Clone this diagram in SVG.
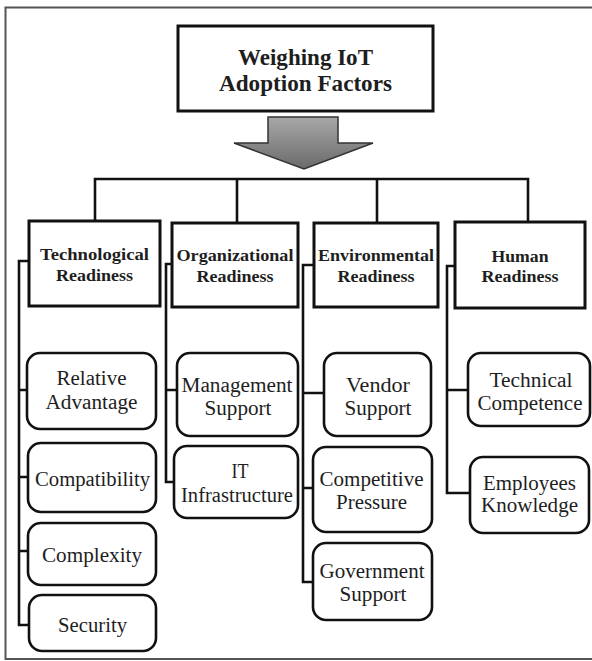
<svg xmlns="http://www.w3.org/2000/svg" width="592" height="661" viewBox="0 0 592 661">
<defs>
<linearGradient id="ag" x1="0" y1="0" x2="0" y2="1">
<stop offset="0" stop-color="#a8a8a8"/>
<stop offset="1" stop-color="#6a6a6a"/>
</linearGradient>
<style>
.h{font-size:23px;font-weight:bold}
.c{font-size:17px;font-weight:bold}
.l{font-size:20.5px}
.sq{fill:#fff;stroke:#111;stroke-width:3}
.rd{fill:#fff;stroke:#111;stroke-width:2.6}
.cn{fill:none;stroke:#111;stroke-width:2.6}
</style>
</defs>
<rect x="0" y="0" width="592" height="661" fill="#fff"/>
<path d="M600,7.5 H5.5 V659 H600" fill="none" stroke="#555" stroke-width="2"/>

<g id="connectors">
<path class="cn" d="M95,222 V179 H528 V222 M237,179 V222 M377,179 V222"/>
<path class="cn" d="M29,261 H19 V625 H29 M19,390 H28 M19,477 H28 M19,551 H28"/>
<path class="cn" d="M172,264 H166 V482 H174 M166,390 H177"/>
<path class="cn" d="M314,265 H303 V582 H313 M303,393 H324 M303,488 H313"/>
<path class="cn" d="M455,266 H447 V493 H470 M447,390 H468"/>
</g>

<g font-family="Liberation Serif, DejaVu Serif, serif" fill="#1e1e1e" text-anchor="middle">
<g id="title">
<rect class="sq" x="178" y="26" width="255" height="85"/>
<text class="h" x="305.5" y="65" textLength="135" lengthAdjust="spacingAndGlyphs">Weighing IoT</text>
<text class="h" x="305.5" y="91" textLength="173" lengthAdjust="spacingAndGlyphs">Adoption Factors</text>
</g>

<g id="arrow">
<polygon points="268,117 338,117 338,143 373,143 304,169 234,143 268,143" fill="url(#ag)" stroke="#333" stroke-width="1.5"/>
</g>

<g id="technological">
<rect class="sq" x="29" y="221" width="131" height="85"/>
<text class="c" x="94.5" y="260" textLength="109" lengthAdjust="spacingAndGlyphs">Technological</text>
<text class="c" x="94.5" y="281" textLength="77" lengthAdjust="spacingAndGlyphs">Readiness</text>
</g>
<g id="organizational">
<rect class="sq" x="172" y="223" width="126" height="84"/>
<text class="c" x="235" y="261" textLength="117" lengthAdjust="spacingAndGlyphs">Organizational</text>
<text class="c" x="235" y="282" textLength="77" lengthAdjust="spacingAndGlyphs">Readiness</text>
</g>
<g id="environmental">
<rect class="sq" x="314" y="223" width="124" height="84"/>
<text class="c" x="376" y="261" textLength="116" lengthAdjust="spacingAndGlyphs">Environmental</text>
<text class="c" x="376" y="282" textLength="77" lengthAdjust="spacingAndGlyphs">Readiness</text>
</g>
<g id="human">
<rect class="sq" x="455" y="222" width="130" height="86"/>
<text class="c" x="520" y="262" textLength="57" lengthAdjust="spacingAndGlyphs">Human</text>
<text class="c" x="520" y="282" textLength="77" lengthAdjust="spacingAndGlyphs">Readiness</text>
</g>

<g id="relative-advantage">
<rect class="rd" x="27" y="353" width="129" height="76" rx="13"/>
<text class="l" x="91.5" y="385" textLength="70" lengthAdjust="spacingAndGlyphs">Relative</text>
<text class="l" x="91.5" y="409" textLength="92" lengthAdjust="spacingAndGlyphs">Advantage</text>
</g>
<g id="compatibility">
<rect class="rd" x="28" y="443" width="128" height="69" rx="13"/>
<text class="l" x="92.5" y="486" textLength="115" lengthAdjust="spacingAndGlyphs">Compatibility</text>
</g>
<g id="complexity">
<rect class="rd" x="28" y="523" width="128" height="62" rx="13"/>
<text class="l" x="92" y="562" textLength="100" lengthAdjust="spacingAndGlyphs">Complexity</text>
</g>
<g id="security">
<rect class="rd" x="29" y="595" width="127" height="56" rx="13"/>
<text class="l" x="92.5" y="632" textLength="69" lengthAdjust="spacingAndGlyphs">Security</text>
</g>

<g id="management-support">
<rect class="rd" x="177" y="353" width="121" height="83" rx="13"/>
<text class="l" x="237" y="392" textLength="111" lengthAdjust="spacingAndGlyphs">Management</text>
<text class="l" x="238" y="415" textLength="67" lengthAdjust="spacingAndGlyphs">Support</text>
</g>
<g id="it-infrastructure">
<rect class="rd" x="174" y="446" width="124" height="72" rx="13"/>
<text class="l" x="240" y="478" textLength="17" lengthAdjust="spacingAndGlyphs">IT</text>
<text class="l" x="237" y="502" textLength="112" lengthAdjust="spacingAndGlyphs">Infrastructure</text>
</g>

<g id="vendor-support">
<rect class="rd" x="324" y="353" width="107" height="83" rx="13"/>
<text class="l" x="378" y="392" textLength="64" lengthAdjust="spacingAndGlyphs">Vendor</text>
<text class="l" x="378" y="415" textLength="67" lengthAdjust="spacingAndGlyphs">Support</text>
</g>
<g id="competitive-pressure">
<rect class="rd" x="313" y="447" width="119" height="85" rx="13"/>
<text class="l" x="371.5" y="486" textLength="104" lengthAdjust="spacingAndGlyphs">Competitive</text>
<text class="l" x="371.5" y="509" textLength="71" lengthAdjust="spacingAndGlyphs">Pressure</text>
</g>
<g id="government-support">
<rect class="rd" x="313" y="543" width="119" height="77" rx="13"/>
<text class="l" x="372" y="578" textLength="105" lengthAdjust="spacingAndGlyphs">Government</text>
<text class="l" x="373" y="601" textLength="67" lengthAdjust="spacingAndGlyphs">Support</text>
</g>

<g id="technical-competence">
<rect class="rd" x="468" y="353" width="122" height="73" rx="13"/>
<text class="l" x="531" y="387" textLength="83" lengthAdjust="spacingAndGlyphs">Technical</text>
<text class="l" x="530" y="410" textLength="105" lengthAdjust="spacingAndGlyphs">Competence</text>
</g>
<g id="employees-knowledge">
<rect class="rd" x="470" y="457" width="119" height="76" rx="13"/>
<text class="l" x="529.5" y="490" textLength="93" lengthAdjust="spacingAndGlyphs">Employees</text>
<text class="l" x="529.5" y="512" textLength="97" lengthAdjust="spacingAndGlyphs">Knowledge</text>
</g>
</g>
</svg>
